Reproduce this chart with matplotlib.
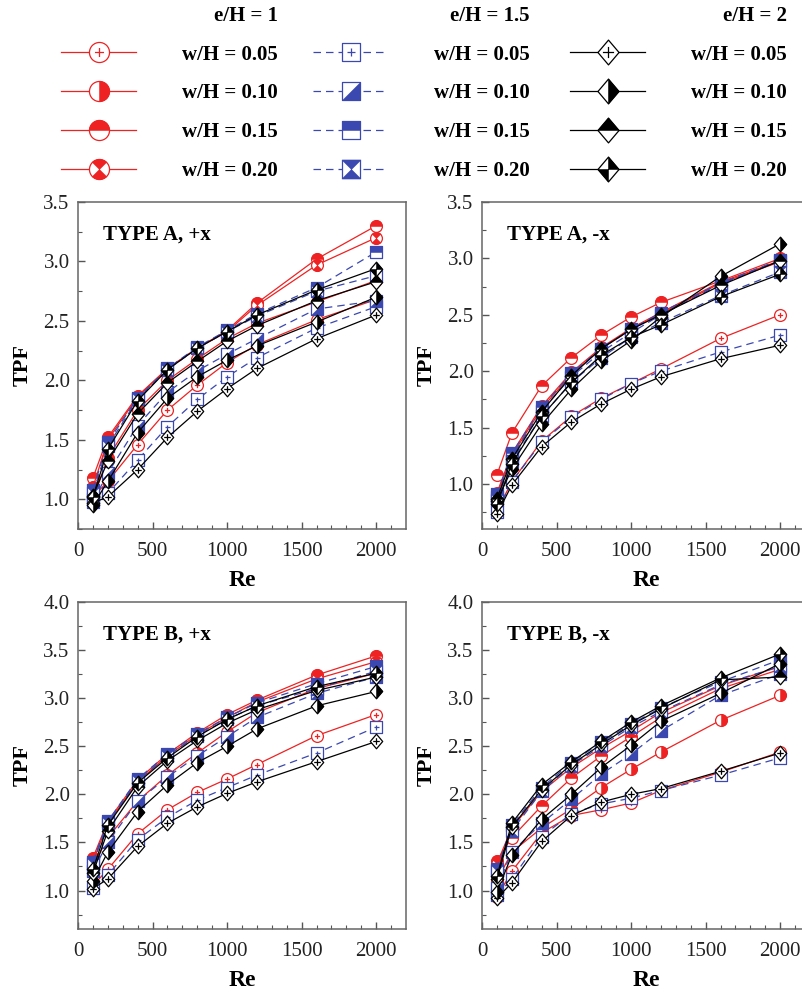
import numpy as np
import matplotlib
matplotlib.use("Agg")
import matplotlib.pyplot as plt
from matplotlib.path import Path
from matplotlib.legend_handler import HandlerTuple

plt.rcParams["font.family"] = ["Liberation Serif", "DejaVu Serif"]
plt.rcParams["axes.linewidth"] = 1.1

# --- data -------------------------------------------------------------
re = [100, 200, 400, 600, 800, 1000, 1200, 1600, 2000]
wh_labels = ["w/H = 0.05", "w/H = 0.10", "w/H = 0.15", "w/H = 0.20"]
eh_labels = ["e/H = 1", "e/H = 1.5", "e/H = 2"]
panel_titles = ["TYPE A, +x", "TYPE A, -x", "TYPE B, +x", "TYPE B, -x"]

# TYPE A, +x   (rows: w/H = 0.05, 0.10, 0.15, 0.20)
a_px_e1 = [[1.02, 1.15, 1.46, 1.75, 1.96, 2.15, 2.30, 2.51, 2.68],
           [1.00, 1.35, 1.75, 2.00, 2.18, 2.35, 2.48, 2.66, 2.84],
           [1.18, 1.52, 1.87, 2.10, 2.27, 2.42, 2.65, 3.02, 3.30],
           [1.10, 1.50, 1.86, 2.10, 2.27, 2.41, 2.63, 2.97, 3.20]]
a_px_e15 = [[1.00, 1.05, 1.33, 1.61, 1.84, 2.03, 2.19, 2.44, 2.62],
            [0.98, 1.22, 1.62, 1.90, 2.08, 2.22, 2.35, 2.60, 2.67],
            [1.08, 1.48, 1.85, 2.10, 2.28, 2.42, 2.56, 2.78, 3.08],
            [1.05, 1.45, 1.84, 2.09, 2.27, 2.41, 2.54, 2.75, 2.88]]
a_px_e2 = [[0.97, 1.02, 1.25, 1.52, 1.74, 1.93, 2.10, 2.35, 2.55],
           [0.95, 1.15, 1.56, 1.85, 2.03, 2.17, 2.29, 2.49, 2.70],
           [1.03, 1.32, 1.72, 1.98, 2.16, 2.33, 2.46, 2.67, 2.83],
           [1.02, 1.42, 1.83, 2.09, 2.27, 2.41, 2.55, 2.76, 2.94]]

# TYPE A, -x
a_mx_e1 = [[0.76, 1.02, 1.38, 1.60, 1.76, 1.89, 2.02, 2.29, 2.50],
           [0.92, 1.27, 1.69, 1.99, 2.21, 2.38, 2.52, 2.79, 2.98],
           [1.08, 1.45, 1.87, 2.12, 2.32, 2.48, 2.61, 2.80, 3.00],
           [0.90, 1.25, 1.67, 1.97, 2.20, 2.37, 2.51, 2.78, 2.97]]
a_mx_e15 = [[0.75, 1.02, 1.37, 1.59, 1.75, 1.89, 2.00, 2.17, 2.32],
            [0.88, 1.24, 1.65, 1.95, 2.17, 2.34, 2.50, 2.77, 2.98],
            [0.91, 1.27, 1.68, 1.98, 2.20, 2.37, 2.52, 2.78, 2.99],
            [0.86, 1.20, 1.60, 1.90, 2.12, 2.30, 2.43, 2.67, 2.88]]
a_mx_e2 = [[0.73, 0.99, 1.33, 1.55, 1.71, 1.84, 1.95, 2.11, 2.23],
           [0.85, 1.13, 1.53, 1.84, 2.09, 2.27, 2.48, 2.84, 3.13],
           [0.87, 1.22, 1.64, 1.96, 2.20, 2.37, 2.50, 2.76, 2.98],
           [0.82, 1.18, 1.60, 1.90, 2.14, 2.30, 2.41, 2.66, 2.86]]

# TYPE B, +x
b_px_e1 = [[1.05, 1.22, 1.59, 1.84, 2.02, 2.16, 2.31, 2.61, 2.83],
           [1.25, 1.55, 1.93, 2.20, 2.43, 2.65, 2.85, 3.10, 3.26],
           [1.34, 1.72, 2.15, 2.42, 2.64, 2.83, 2.98, 3.24, 3.44],
           [1.30, 1.70, 2.13, 2.40, 2.62, 2.80, 2.96, 3.20, 3.38]]
b_px_e15 = [[1.03, 1.16, 1.53, 1.76, 1.94, 2.07, 2.20, 2.43, 2.70],
            [1.20, 1.50, 1.93, 2.18, 2.40, 2.60, 2.80, 3.05, 3.22],
            [1.30, 1.72, 2.16, 2.42, 2.63, 2.80, 2.95, 3.15, 3.33],
            [1.28, 1.70, 2.14, 2.40, 2.61, 2.78, 2.92, 3.10, 3.28]]
b_px_e2 = [[1.02, 1.12, 1.46, 1.70, 1.87, 2.01, 2.13, 2.34, 2.55],
           [1.10, 1.40, 1.82, 2.10, 2.33, 2.50, 2.68, 2.92, 3.07],
           [1.18, 1.62, 2.08, 2.35, 2.56, 2.74, 2.88, 3.08, 3.22],
           [1.22, 1.68, 2.12, 2.38, 2.60, 2.78, 2.92, 3.12, 3.26]]

# TYPE B, -x
b_mx_e1 = [[0.93, 1.20, 1.60, 1.78, 1.84, 1.91, 2.04, 2.23, 2.44],
           [1.10, 1.40, 1.65, 1.85, 2.07, 2.26, 2.44, 2.77, 3.03],
           [1.31, 1.55, 1.88, 2.17, 2.40, 2.60, 2.80, 3.10, 3.30],
           [1.28, 1.65, 2.03, 2.28, 2.48, 2.66, 2.85, 3.13, 3.33]]
b_mx_e15 = [[0.95, 1.12, 1.56, 1.80, 1.90, 1.96, 2.04, 2.20, 2.38],
            [1.03, 1.40, 1.70, 1.95, 2.21, 2.42, 2.66, 3.03, 3.25],
            [1.22, 1.68, 2.07, 2.33, 2.54, 2.73, 2.90, 3.17, 3.40],
            [1.20, 1.62, 2.03, 2.30, 2.50, 2.70, 2.86, 3.14, 3.33]]
b_mx_e2 = [[0.92, 1.08, 1.51, 1.78, 1.92, 2.00, 2.06, 2.24, 2.43],
           [0.98, 1.37, 1.74, 2.00, 2.28, 2.51, 2.76, 3.05, 3.36],
           [1.12, 1.66, 2.05, 2.31, 2.52, 2.72, 2.89, 3.19, 3.22],
           [1.15, 1.70, 2.10, 2.34, 2.55, 2.75, 2.92, 3.21, 3.46]]

panels = [(a_px_e1, a_px_e15, a_px_e2), (a_mx_e1, a_mx_e15, a_mx_e2),
          (b_px_e1, b_px_e15, b_px_e2), (b_mx_e1, b_mx_e15, b_mx_e2)]
ylims = [(0.8, 3.5), (0.6, 3.5), (0.6, 4.0), (0.6, 4.0)]


# --- marker shapes ----------------------------------------------------
def poly(pts):
    pts = list(pts) + [pts[0]]
    return Path(pts, closed=True)


def arc(a0, a1, center=False, n=40):
    t = np.radians(np.linspace(a0, a1, n))
    pts = list(zip(np.cos(t), np.sin(t)))
    if center:
        pts = [(0, 0)] + pts
    return poly(pts)


plus = [Path([(-0.45, 0), (0.45, 0)]), Path([(0, -0.45), (0, 0.45)])]
d = 0.85
circle = Path.unit_circle()
square = poly([(-1, -1), (1, -1), (1, 1), (-1, 1)])
diamond = poly([(0, 1), (d, 0), (0, -1), (-d, 0)])

shapes = [
    # e/H = 1 : circles
    dict(base=circle, plus=Path.make_compound_path(circle, *plus),
         fills=[arc(-90, 90), arc(0, 180),
                Path.make_compound_path(arc(45, 135, True), arc(225, 315, True))],
         ms=8.5),
    # e/H = 1.5 : squares
    dict(base=square, plus=Path.make_compound_path(square, *plus),
         fills=[poly([(-1, -1), (1, -1), (1, 1)]),
                poly([(-1, 0), (1, 0), (1, 1), (-1, 1)]),
                Path.make_compound_path(poly([(-1, 1), (1, 1), (0, 0)]),
                                        poly([(-1, -1), (1, -1), (0, 0)]))],
         ms=8.0),
    # e/H = 2 : diamonds
    dict(base=diamond, plus=Path.make_compound_path(diamond, *plus),
         fills=[poly([(0, 1), (d, 0), (0, -1)]),
                poly([(-d, 0), (0, 1), (d, 0)]),
                Path.make_compound_path(poly([(0, 0), (0, 1), (d, 0)]),
                                        poly([(0, 0), (0, -1), (-d, 0)]))],
         ms=10.5),
]
colors = ["#ee2222", "#3a48b0", "#000000"]
styles = ["-", (0, (6, 4)), "-"]

# --- figure -----------------------------------------------------------
W, H = 802, 998
fig = plt.figure(figsize=(W / 100, H / 100), dpi=100)
ax_w, ax_h = 328 / W, 327 / H
positions = [(78 / W, (H - 529) / H), (482 / W, (H - 529) / H),
             (78 / W, (H - 929) / H), (482 / W, (H - 929) / H)]

legend_handles = [[], [], []]
for p, (series_sets, pos) in enumerate(zip(panels, positions)):
    ax = fig.add_axes([pos[0], pos[1], ax_w, ax_h])
    for e, vals in enumerate(series_sets):
        sh = shapes[e]
        for w, y in enumerate(vals):
            marker = sh["plus"] if w == 0 else sh["base"]
            line, = ax.plot(re, y, color=colors[e], linestyle=styles[e], lw=0.9,
                            marker=marker, ms=sh["ms"], mfc="white",
                            mec=colors[e], mew=0.9)
            handle = line
            if w > 0:
                over, = ax.plot(re, y, linestyle="none", marker=sh["fills"][w - 1],
                                ms=sh["ms"], mfc=colors[e], mec=colors[e], mew=0.4)
                handle = (line, over)
            if p == 0:
                legend_handles[e].append(handle)

    ax.set_xlim(0, 2200)
    ax.set_ylim(*ylims[p])
    ax.set_xticks([0, 500, 1000, 1500, 2000])
    ax.set_xticks(np.arange(100, 2200, 100), minor=True)
    ax.set_yticks(np.arange(1.0, ylims[p][1] + 0.01, 0.5))
    ax.set_yticks(np.arange(0.75, ylims[p][1], 0.5), minor=True)
    ax.yaxis.set_major_formatter(plt.FormatStrFormatter("%.1f"))
    ax.tick_params(which="both", direction="in", colors="#555555",
                   labelcolor="#222222", labelsize=15)
    ax.tick_params(which="major", length=5, width=1)
    ax.tick_params(which="minor", length=3, width=0.8)
    ax.tick_params(axis="x", pad=9)
    ax.tick_params(axis="y", pad=6)
    for s in ax.spines.values():
        s.set_color("#666666")
    ax.set_xlabel("Re", fontsize=17, fontweight="bold", labelpad=7)
    ax.set_ylabel("TPF", fontsize=16, fontweight="bold", labelpad=8)
    ax.text(0.076, 0.9, panel_titles[p], transform=ax.transAxes,
            fontsize=15, fontweight="bold", va="center", ha="left")

# --- legend -----------------------------------------------------------
leg_x = [61, 313, 570]
for e in range(3):
    fig.legend(handles=legend_handles[e], labels=wh_labels, loc="upper left",
               bbox_to_anchor=(leg_x[e] / W, 1 - 6 / H), frameon=False,
               title=eh_labels[e], alignment="right",
               prop=dict(weight="bold", size=15),
               title_fontproperties=dict(weight="bold", size=15),
               handlelength=3.6, handletextpad=2.2, labelspacing=0.9,
               borderpad=0, borderaxespad=0, markerscale=1.7,
               handler_map={tuple: HandlerTuple(ndivide=1)})

fig.savefig("out.png", dpi=100)
